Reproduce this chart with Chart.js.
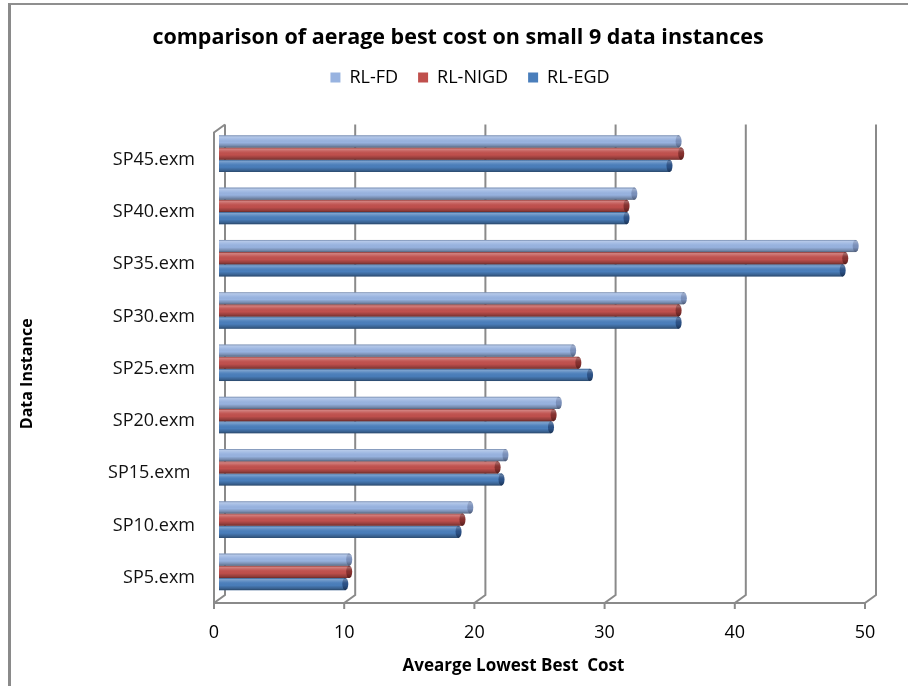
<!DOCTYPE html>
<html>
<head>
<meta charset="utf-8">
<script src="https://cdn.jsdelivr.net/npm/chart.js@4.4.1/dist/chart.umd.min.js"></script>
<style>
  html, body { margin: 0; padding: 0; background: #ffffff; }
  #page { position: relative; width: 908px; height: 686px; overflow: hidden; }
  #frame { position: absolute; left: 8px; top: 3px; right: -4px; bottom: -4px;
           border-left: 3px solid #8a8a8a; border-top: 2px solid #8f8f8f; }
  canvas { position: absolute; left: 0; top: 0; }
</style>
</head>
<body>
<div id="page">
  <div id="frame"></div>
  <canvas id="chart" width="908" height="686"></canvas>
</div>
<script>
// Data instances, listed top to bottom
const instances = ['SP45.exm', 'SP40.exm', 'SP35.exm', 'SP30.exm', 'SP25.exm',
                   'SP20.exm', 'SP15.exm ', 'SP10.exm', 'SP5.exm'];

// Average lowest best cost per method
const rlFD   = [35.3, 31.9, 48.9, 35.7, 27.2, 26.1, 22.0, 19.3, 10.0];
const rlNIGD = [35.5, 31.3, 48.1, 35.3, 27.6, 25.7, 21.4, 18.7, 10.0];
const rlEGD  = [34.6, 31.3, 47.9, 35.3, 28.5, 25.5, 21.7, 18.4, 9.7];

// Cost axis ticks
const costTicks = [0, 10, 20, 30, 40, 50];

const FONT = "'Open Sans', 'DejaVu Sans', sans-serif";

// Walls, floor edge and tick marks of the 3-D plot box, placed from the x scale
const frame3d = {
  id: 'frame3d',
  beforeDatasetsDraw(chart) {
    const { ctx, chartArea: a, scales: { x } } = chart;
    const bx = 6, by = -3, fx = -5, fy = 5;
    ctx.save();
    ctx.strokeStyle = '#8a8a8a';
    ctx.lineWidth = 2;
    costTicks.forEach(v => {
      const p = x.getPixelForValue(v);
      ctx.beginPath();
      ctx.moveTo(p + bx, a.top + by);
      ctx.lineTo(p + bx, a.bottom + by);
      ctx.lineTo(p + fx, a.bottom + fy);
      ctx.lineTo(p + fx, a.bottom + fy + 6);
      ctx.stroke();
    });
    const p0 = x.getPixelForValue(costTicks[0]);
    const pN = x.getPixelForValue(costTicks[costTicks.length - 1]);
    ctx.beginPath();
    ctx.moveTo(p0 + bx, a.top + by);
    ctx.lineTo(p0 + fx, a.top + by + 8);
    ctx.lineTo(p0 + fx, a.bottom + fy);
    ctx.lineTo(pN + fx, a.bottom + fy);
    ctx.stroke();
    ctx.restore();
  }
};

// Cylinder shading and end caps over each bar drawn by the controller
const cylinder = {
  id: 'cylinder',
  afterDatasetsDraw(chart) {
    const ctx = chart.ctx;
    chart.data.datasets.forEach((ds, i) => {
      const meta = chart.getDatasetMeta(i);
      meta.data.forEach(bar => {
        const { x, y, base, height } = bar.getProps(['x', 'y', 'base', 'height'], true);
        const top = y - height / 2;
        const g = ctx.createLinearGradient(0, top, 0, top + height);
        g.addColorStop(0, 'rgba(0,0,0,0.22)');
        g.addColorStop(0.12, 'rgba(255,255,255,0.28)');
        g.addColorStop(0.35, 'rgba(255,255,255,0.06)');
        g.addColorStop(0.6, 'rgba(0,0,0,0)');
        g.addColorStop(0.88, 'rgba(0,0,0,0.25)');
        g.addColorStop(1, 'rgba(0,0,0,0.45)');
        ctx.save();
        ctx.fillStyle = g;
        ctx.fillRect(base, top, x - base, height);
        ctx.beginPath();
        ctx.ellipse(x, y, 3, height / 2, 0, 0, Math.PI * 2);
        ctx.fillStyle = ds.capColor;
        ctx.fill();
        ctx.fillStyle = g;
        ctx.fill();
        ctx.restore();
      });
    });
  }
};

// Axis captions
const captions = {
  id: 'captions',
  afterDraw(chart) {
    const { ctx, chartArea: a } = chart;
    ctx.save();
    ctx.fillStyle = '#000';
    ctx.font = "bold 17px " + FONT;
    ctx.textAlign = 'center';
    ctx.textBaseline = 'middle';
    ctx.fillText('Avearge Lowest Best  Cost', (a.left + a.right) / 2 - 31, 666);
    ctx.font = "bold 16px " + FONT;
    ctx.translate(27, (a.top + a.bottom) / 2 + 11);
    ctx.rotate(-Math.PI / 2);
    ctx.fillText('Data Instance', 0, 0);
    ctx.restore();
  }
};

// Header spacing: legend block height and centring of title and legend
const header = {
  id: 'header',
  beforeInit(chart) {
    const legend = chart.legend;
    const fit = legend.fit;
    legend.fit = function () {
      fit.call(this);
      this.height = 79;
    };
  },
  afterLayout(chart) {
    chart.titleBlock.left += 18;
    chart.titleBlock.right += 18;
    chart.legend.left += 30;
    chart.legend.right += 30;
  }
};

new Chart(document.getElementById('chart'), {
  type: 'bar',
  data: {
    labels: instances,
    datasets: [
      { label: 'RL-FD',   data: rlFD,   backgroundColor: '#98b3e0', capColor: '#7a90bb', borderWidth: 0 },
      { label: 'RL-NIGD', data: rlNIGD, backgroundColor: '#c0504d', capColor: '#86302e', borderWidth: 0 },
      { label: 'RL-EGD',  data: rlEGD,  backgroundColor: '#4a7ebb', capColor: '#2b5186', borderWidth: 0 }
    ]
  },
  options: {
    indexAxis: 'y',
    responsive: false,
    animation: false,
    devicePixelRatio: 1,
    categoryPercentage: 0.7,
    barPercentage: 1.0,
    layout: { padding: { left: 10, right: 38, top: 0, bottom: 0 } },
    plugins: {
      title: {
        display: true,
        text: 'comparison of aerage best cost on small 9 data instances',
        color: '#000',
        font: { family: FONT, size: 21.5, weight: 'bold', lineHeight: 1 },
        padding: { top: 27, bottom: 0 }
      },
      legend: {
        display: true,
        position: 'top',
        labels: {
          color: '#000',
          font: { family: FONT, size: 18, lineHeight: 1 },
          boxWidth: 10,
          boxHeight: 10,
          padding: 20
        }
      },
      tooltip: { enabled: false }
    },
    scales: {
      x: {
        type: 'linear',
        min: 0,
        max: 50,
        afterBuildTicks(scale) { scale.ticks = costTicks.map(v => ({ value: v })); },
        afterFit(scale) { scale.height = 88; },
        grid: { display: false, drawTicks: false },
        border: { display: false },
        ticks: { color: '#000', font: { family: FONT, size: 18 }, padding: 24, labelOffset: -5 }
      },
      y: {
        afterFit(scale) { scale.width = 209; },
        grid: { display: false, drawTicks: false },
        border: { display: false },
        ticks: { color: '#111', font: { family: FONT, size: 18 }, padding: 24, labelOffset: 6 }
      }
    }
  },
  plugins: [frame3d, cylinder, captions, header]
});
</script>
</body>
</html>
